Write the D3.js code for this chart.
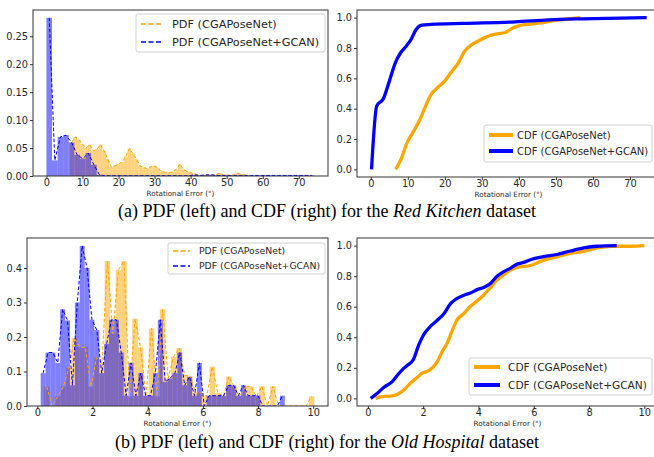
<!DOCTYPE html>
<html>
<head>
<meta charset="utf-8">
<script src="https://cdn.jsdelivr.net/npm/d3@7"></script>
<style>
  body { margin: 0; background: #fff; }
  svg { display: block; }
</style>
</head>
<body>
<div id="chart"></div>
<script>
// ---- data ----
const pdfLabels = ["PDF (CGAPoseNet)", "PDF (CGAPoseNet+GCAN)"];
const cdfLabels = ["CDF (CGAPoseNet)", "CDF (CGAPoseNet+GCAN)"];
const captionA = ["(a) PDF (left) and CDF (right) for the ", "Red Kitchen", " dataset"];
const captionB = ["(b) PDF (left) and CDF (right) for the ", "Old Hospital", " dataset"];
const axisLabel = "Rotational Error (°)";

// Red Kitchen, histogram bins (start, width, density)
const kitchenOrangeStart = 6.5, kitchenOrangeWidth = 1.0;
const kitchenOrange = [
  0.060, 0.070, 0.065, 0.057, 0.050, 0.056, 0.045, 0.048, 0.056, 0.045,
  0.030, 0.016, 0.018, 0.021, 0.025, 0.035, 0.049, 0.040, 0.030, 0.018,
  0.015, 0.013, 0.017, 0.018, 0.014, 0.008, 0.007, 0.006, 0.007, 0.012,
  0.021, 0.012, 0.008, 0.006, 0.004, 0.002, 0.001, 0.001, 0.002, 0.002,
  0.002, 0.005, 0.002, 0.002, 0.001, 0.002, 0.005, 0.003, 0.002, 0.001
];
const kitchenBlueStart = 0, kitchenBlueWidth = 1.55;
const kitchenBlue = [
  0.283, 0.028, 0.070, 0.073, 0.060, 0.038, 0.031, 0.041, 0.020, 0.002,
  0.0005, 0.0005, 0.0005, 0.0005, 0.0005, 0.0005, 0.0005, 0.0005, 0.0005, 0.0005,
  0.0005, 0.0005, 0.0005, 0.0005, 0.0005, 0.0005, 0.002, 0.001, 0.002, 0.002,
  0.001, 0.001, 0.001, 0.001, 0.001, 0.001, 0.001, 0.001, 0.001, 0.001,
  0.001, 0.001, 0.001, 0.001, 0.001, 0.001, 0.001, 0.001
];

// Red Kitchen CDF points [error, cumulative]
const kitchenCdfOrange = [
  [6.7, 0.0], [8.15, 0.066], [9.8, 0.176], [11.3, 0.24], [12.9, 0.31], [14.5, 0.40],
  [16.3, 0.495], [18.1, 0.54], [19.9, 0.58], [21.7, 0.64], [23.6, 0.70], [25.4, 0.78],
  [27.2, 0.82], [29.0, 0.846], [30.8, 0.868], [32.6, 0.884], [34.4, 0.894], [36.2, 0.90],
  [38.0, 0.927], [39.9, 0.945], [41.7, 0.954], [45.3, 0.963], [48.9, 0.978], [52.5, 0.989],
  [56.6, 1.0]
];
const kitchenCdfBlue = [
  [0.2, 0.0], [1.6, 0.418], [3.4, 0.466], [5.0, 0.58], [6.6, 0.70], [8.1, 0.77],
  [9.5, 0.81], [10.9, 0.857], [12.2, 0.92], [13.8, 0.95], [16.3, 0.955], [25.0, 0.962],
  [39.0, 0.972], [48.0, 0.985], [57.0, 0.992], [74.5, 1.0]
];

// Old Hospital, histogram bins
const hospitalOrangeStart = 0.24, hospitalOrangeWidth = 0.2;
const hospitalOrange = [
  0.056, 0.0, 0.028, 0.056, 0.110, 0.197, 0.170, 0.170, 0.056, 0.140,
  0.126, 0.420, 0.210, 0.395, 0.420, 0.028, 0.253, 0.170, 0.028, 0.225,
  0.028, 0.280, 0.080, 0.143, 0.168, 0.090, 0.085, 0.038, 0.038, 0.028,
  0.114, 0.038, 0.028, 0.085, 0.056, 0.028, 0.057, 0.057, 0.028, 0.057,
  0.0, 0.057, 0.0, 0.0, 0.0, 0.0, 0.0, 0.0, 0.028
];
const hospitalBlueStart = 0.12, hospitalBlueWidth = 0.177;
const hospitalBlue = [
  0.095, 0.155, 0.155, 0.125, 0.280, 0.248, 0.060, 0.300, 0.464, 0.400,
  0.250, 0.220, 0.095, 0.180, 0.250, 0.250, 0.155, 0.030, 0.125, 0.030,
  0.095, 0.030, 0.030, 0.095, 0.250, 0.070, 0.080, 0.095, 0.155, 0.060,
  0.085, 0.030, 0.125, 0.0, 0.030, 0.030, 0.030, 0.030, 0.060, 0.060,
  0.030, 0.060, 0.030, 0.030, 0.030, 0.0, 0.0, 0.0, 0.0, 0.030
];

// Old Hospital CDF points
const hospitalCdfOrange = [
  [0.28, 0.0], [0.46, 0.01], [0.82, 0.015], [1.06, 0.026], [1.3, 0.055], [1.54, 0.10],
  [1.78, 0.136], [1.96, 0.165], [2.14, 0.176], [2.33, 0.20], [2.5, 0.237], [2.69, 0.308],
  [2.87, 0.363], [3.05, 0.444], [3.23, 0.516], [3.47, 0.554], [3.65, 0.593], [3.95, 0.637],
  [4.19, 0.677], [4.43, 0.725], [4.67, 0.774], [4.92, 0.81], [5.16, 0.84], [5.4, 0.857],
  [5.88, 0.87], [6.36, 0.905], [6.84, 0.927], [7.33, 0.95], [7.81, 0.963], [8.29, 0.985],
  [8.77, 0.996], [9.5, 0.996], [10.0, 1.0]
];
const hospitalCdfBlue = [
  [0.1, 0.0], [0.34, 0.033], [0.58, 0.073], [0.88, 0.11], [1.06, 0.15], [1.24, 0.187],
  [1.42, 0.215], [1.64, 0.253], [1.84, 0.35], [2.02, 0.418], [2.27, 0.473], [2.5, 0.51],
  [2.75, 0.554], [2.99, 0.62], [3.17, 0.648], [3.47, 0.675], [3.71, 0.69], [3.95, 0.712],
  [4.19, 0.726], [4.43, 0.752], [4.67, 0.80], [4.92, 0.83], [5.16, 0.853], [5.4, 0.879],
  [5.64, 0.89], [5.88, 0.908], [6.36, 0.928], [6.84, 0.942], [7.33, 0.965], [7.81, 0.985],
  [8.29, 0.996], [9.0, 1.0]
];

const xTicksKitchen = [0, 10, 20, 30, 40, 50, 60, 70];
const xTicksHospital = [0, 2, 4, 6, 8, 10];
const yTicksKitchenPdf = [0, 0.05, 0.10, 0.15, 0.20, 0.25];
const yTicksHospitalPdf = [0, 0.1, 0.2, 0.3, 0.4];
const yTicksCdf = [0, 0.2, 0.4, 0.6, 0.8, 1.0];

// ---- drawing ----
const ORANGE = "#ffa500", BLUE = "#0000ff";
const FONT = "'DejaVu Sans', sans-serif";

const svg = d3.select("#chart").append("svg")
  .attr("width", 654).attr("height", 457);

const toBins = (start, width, heights) =>
  heights.map((h, i) => ({ x0: start + i * width, x1: start + (i + 1) * width, h }));

function frame(cfg) {
  const g = svg.append("g");
  const x = d3.scaleLinear().domain(cfg.xDomain).range([cfg.left, cfg.right]);
  const y = d3.scaleLinear().domain(cfg.yDomain).range([cfg.bottom, cfg.top]);

  const clipId = "clip-" + cfg.id;
  svg.append("clipPath").attr("id", clipId).append("rect")
    .attr("x", cfg.left).attr("y", cfg.top)
    .attr("width", cfg.right - cfg.left).attr("height", cfg.bottom - cfg.top);
  const plot = g.append("g").attr("clip-path", `url(#${clipId})`);

  const xAxis = g.append("g")
    .attr("transform", `translate(0,${cfg.bottom})`)
    .call(d3.axisBottom(x).tickValues(cfg.xTicks).tickSize(3).tickPadding(0).tickFormat(d3.format("d")));
  const yAxis = g.append("g")
    .attr("transform", `translate(${cfg.left},0)`)
    .call(d3.axisLeft(y).tickValues(cfg.yTicks).tickSize(3).tickPadding(2).tickFormat(d3.format(cfg.yFormat)));
  [xAxis, yAxis].forEach(a => {
    a.select(".domain").remove();
    a.selectAll("line").attr("stroke", "#333");
    a.selectAll("text").attr("fill", "#262626").style("font-family", FONT).style("font-size", "9.8px");
  });

  g.append("rect")
    .attr("x", cfg.left).attr("y", cfg.top)
    .attr("width", cfg.right - cfg.left).attr("height", cfg.bottom - cfg.top)
    .attr("fill", "none").attr("stroke", "#333").attr("stroke-width", 1);

  g.append("text")
    .attr("x", (cfg.left + cfg.right) / 2).attr("y", cfg.bottom + 20)
    .attr("text-anchor", "middle")
    .style("font-family", FONT).style("font-size", "7.2px").attr("fill", "#262626")
    .text(axisLabel);

  return { g, plot, x, y };
}

function legend(g, cfg, labels, dashed, lw) {
  const L = cfg.legend;
  g.append("rect")
    .attr("x", L.x).attr("y", L.y).attr("width", L.w).attr("height", L.h)
    .attr("rx", 2).attr("fill", "#fff").attr("fill-opacity", 0.85)
    .attr("stroke", "#d0d0d0").attr("stroke-width", 1);
  [ORANGE, BLUE].forEach((c, i) => {
    const yy = L.y + L.row0 + i * L.dy;
    g.append("line")
      .attr("x1", L.x + 5).attr("x2", L.x + 5 + L.handle)
      .attr("y1", yy).attr("y2", yy)
      .attr("stroke", c).attr("stroke-width", lw)
      .attr("stroke-dasharray", dashed ? "5,2.5" : null);
    g.append("text")
      .attr("x", L.x + L.textX).attr("y", yy).attr("dy", "0.35em")
      .style("font-family", FONT).style("font-size", L.font + "px").attr("fill", "#262626")
      .text(labels[i]);
  });
}

function pdfPanel(cfg, orangeBins, blueBins) {
  const { g, plot, x, y } = frame(cfg);
  [[orangeBins, ORANGE], [blueBins, BLUE]].forEach(([bins, c]) => {
    plot.append("g").selectAll("rect").data(bins).join("rect")
      .attr("x", d => x(d.x0)).attr("width", d => x(d.x1) - x(d.x0))
      .attr("y", d => y(d.h)).attr("height", d => y(0) - y(d.h))
      .attr("fill", c).attr("fill-opacity", 0.5);
  });
  const line = d3.line().x(d => x((d.x0 + d.x1) / 2)).y(d => y(d.h));
  [[orangeBins, ORANGE], [blueBins, BLUE]].forEach(([bins, c]) => {
    plot.append("path").datum(bins).attr("d", line)
      .attr("fill", "none").attr("stroke", c).attr("stroke-width", 1)
      .attr("stroke-dasharray", "3.5,2");
  });
  legend(g, cfg, pdfLabels, true, 1.6);
}

function cdfPanel(cfg, orangePts, bluePts) {
  const { g, plot, x, y } = frame(cfg);
  const line = d3.line().x(d => x(d[0])).y(d => y(d[1])).curve(d3.curveMonotoneX);
  [[orangePts, ORANGE], [bluePts, BLUE]].forEach(([pts, c]) => {
    plot.append("path").datum(pts).attr("d", line)
      .attr("fill", "none").attr("stroke", c).attr("stroke-width", 3.3)
      .attr("stroke-linejoin", "round");
  });
  legend(g, cfg, cdfLabels, false, 4);
}

pdfPanel({
  id: "tl", left: 33, right: 328, top: 10, bottom: 176,
  xDomain: [-3.72, 78.1], yDomain: [0, 0.297],
  xTicks: xTicksKitchen, yTicks: yTicksKitchenPdf, yFormat: ".2f",
  legend: { x: 136, y: 14, w: 189, h: 38, row0: 10, dy: 18, handle: 20, textX: 36, font: 11.3 }
}, toBins(kitchenOrangeStart, kitchenOrangeWidth, kitchenOrange),
   toBins(kitchenBlueStart, kitchenBlueWidth, kitchenBlue));

cdfPanel({
  id: "tr", left: 357, right: 660, top: 10, bottom: 177,
  xDomain: [-3.72, 78.1], yDomain: [-0.05, 1.05],
  xTicks: xTicksKitchen, yTicks: yTicksCdf, yFormat: ".1f",
  legend: { x: 484, y: 125, w: 168, h: 37, row0: 10, dy: 16, handle: 24, textX: 33, font: 10 }
}, kitchenCdfOrange, kitchenCdfBlue);

pdfPanel({
  id: "bl", left: 27, right: 328, top: 238, bottom: 406,
  xDomain: [-0.376, 10.536], yDomain: [0, 0.487],
  xTicks: xTicksHospital, yTicks: yTicksHospitalPdf, yFormat: ".1f",
  legend: { x: 168, y: 243, w: 157, h: 31, row0: 8, dy: 15, handle: 17, textX: 31, font: 9.3 }
}, toBins(hospitalOrangeStart, hospitalOrangeWidth, hospitalOrange),
   toBins(hospitalBlueStart, hospitalBlueWidth, hospitalBlue));

cdfPanel({
  id: "br", left: 357, right: 658, top: 238, bottom: 406,
  xDomain: [-0.395, 10.495], yDomain: [-0.05, 1.05],
  xTicks: xTicksHospital, yTicks: yTicksCdf, yFormat: ".1f",
  legend: { x: 469, y: 358, w: 183, h: 37, row0: 9, dy: 18, handle: 26, textX: 39, font: 10.6 }
}, hospitalCdfOrange, hospitalCdfBlue);

// captions
[[captionA, 217], [captionB, 448]].forEach(([parts, yy]) => {
  const t = svg.append("text")
    .attr("x", 327).attr("y", yy).attr("text-anchor", "middle")
    .style("font-family", "'Liberation Serif', 'Times New Roman', serif")
    .style("font-size", "18px").attr("fill", "#000");
  parts.forEach((p, i) => t.append("tspan").style("font-style", i === 1 ? "italic" : "normal").text(p));
});
</script>
</body>
</html>
